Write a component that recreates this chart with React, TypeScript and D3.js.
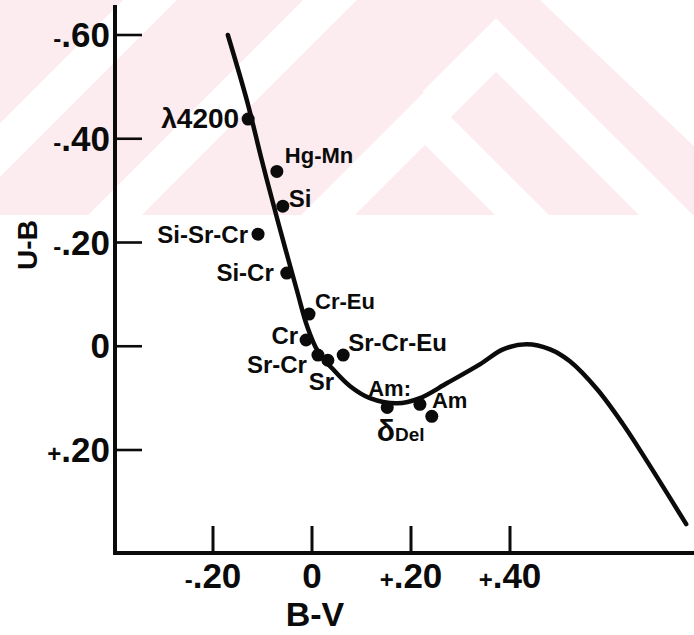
import React from 'react';
import * as d3 from 'd3';

// ---- Data ----
const STAR_NAMES = ['λ4200', 'Hg-Mn', 'Si', 'Si-Sr-Cr', 'Si-Cr', 'Cr-Eu', 'Cr', 'Sr-Cr', 'Sr', 'Sr-Cr-Eu', 'Am:', 'Am', 'δDel'];
const STAR_BV = [-0.129, -0.071, -0.059, -0.109, -0.051, -0.006, -0.012, 0.012, 0.032, 0.063, 0.152, 0.218, 0.242];
const STAR_UB = [-0.438, -0.337, -0.270, -0.216, -0.141, -0.062, -0.012, 0.017, 0.027, 0.017, 0.118, 0.112, 0.135];

// main-sequence curve
const SEQ_BV = [-0.170, -0.131, -0.101, -0.069, -0.030, -0.010, 0.012, 0.042, 0.077, 0.117, 0.172, 0.218, 0.273, 0.339, 0.386, 0.434, 0.481, 0.521, 0.576, 0.628, 0.677, 0.756];
const SEQ_UB = [-0.600, -0.472, -0.357, -0.241, -0.106, -0.039, 0.010, 0.044, 0.077, 0.100, 0.110, 0.100, 0.071, 0.035, 0.006, -0.004, 0.006, 0.029, 0.083, 0.150, 0.222, 0.343];

const BV_TICKS = [-0.2, 0, 0.2, 0.4];
const BV_TICK_LABELS = [['-', '.20'], ['', '0'], ['+', '.20'], ['+', '.40']];
const UB_TICKS = [-0.6, -0.4, -0.2, 0, 0.2];
const UB_TICK_LABELS = [['-', '.60'], ['-', '.40'], ['-', '.20'], ['', '0'], ['+', '.20']];

const X_TITLE = 'B-V';
const Y_TITLE = 'U-B';

// ---- Label placement (presentation) ----
const LABEL_PLACE: Record<string, { dx: number; dy: number; anchor: string; size: number }> = {
  'λ4200': { dx: -9, dy: 9, anchor: 'end', size: 28 },
  'Hg-Mn': { dx: 8, dy: -8, anchor: 'start', size: 22 },
  'Si': { dx: 6, dy: 1, anchor: 'start', size: 24 },
  'Si-Sr-Cr': { dx: -10, dy: 9, anchor: 'end', size: 24 },
  'Si-Cr': { dx: -13, dy: 8, anchor: 'end', size: 24 },
  'Cr-Eu': { dx: 6, dy: -5, anchor: 'start', size: 22 },
  'Cr': { dx: -8, dy: 4, anchor: 'end', size: 24 },
  'Sr-Cr': { dx: -11, dy: 18, anchor: 'end', size: 24 },
  'Sr': { dx: -19, dy: 30, anchor: 'start', size: 24 },
  'Sr-Cr-Eu': { dx: 5, dy: -4, anchor: 'start', size: 24 },
  'Am:': { dx: -19, dy: -11, anchor: 'start', size: 22 },
  'Am': { dx: 12, dy: 4, anchor: 'start', size: 22 },
  'δDel': { dx: -55, dy: 25, anchor: 'start', size: 30 },
};

const W = 694;
const H = 635;
const FONT = '"Liberation Sans", Arial, Helvetica, sans-serif';
const INK = '#0b0b0b';

export default function App() {
  const x = d3.scaleLinear().domain([-0.2, 0.4]).range([213, 510]);
  const y = d3.scaleLinear().domain([-0.6, 0.2]).range([35, 450]);

  const axisX = 115;
  const axisY = 553;
  const yTop = y(-0.658);

  const seq = SEQ_BV.map((b, i) => [b, SEQ_UB[i]] as [number, number]);
  const line = d3
    .line<[number, number]>()
    .x((d) => x(d[0]))
    .y((d) => y(d[1]))
    .curve(d3.curveCatmullRom.alpha(0.5));

  return (
    <svg
      width={W}
      height={H}
      viewBox={`0 0 ${W} ${H}`}
      style={{ position: 'absolute', left: 0, top: 0, background: '#fff' }}
      fontFamily={FONT}
      fontWeight="bold"
    >
      <defs>
        <clipPath id="wm">
          <rect x={0} y={0} width={W} height={215} />
        </clipPath>
      </defs>
      {/* watermark band */}
      <g clipPath="url(#wm)">
        <rect x={0} y={0} width={W} height={215} fill="#fdecef" />
        <g stroke="#ffffff" strokeWidth={38} fill="none" strokeLinecap="butt">
          <line x1={-20} y1={170} x2={170} y2={-20} />
          <line x1={-20} y1={350} x2={350} y2={-20} />
          <polyline points="125,418 425,118 725,418" />
          <polyline points="436,105 496,45 796,345" />
        </g>
        <polygon points="540,0 700,0 700,152" fill="#ffffff" />
      </g>

      {/* axes */}
      <line x1={axisX} y1={yTop} x2={axisX} y2={axisY + 2} stroke={INK} strokeWidth={4} />
      <line x1={axisX - 2} y1={axisY} x2={W} y2={axisY} stroke={INK} strokeWidth={4} />

      {UB_TICKS.map((t, i) => (
        <g key={'yt' + i}>
          <line x1={axisX} x2={axisX + 27} y1={y(t)} y2={y(t)} stroke={INK} strokeWidth={2.6} />
          <text x={110} y={y(t) + 12} textAnchor="end" fontSize={35} fill={INK}>
            <tspan fontSize={24}>{UB_TICK_LABELS[i][0]}</tspan>
            {UB_TICK_LABELS[i][1]}
          </text>
        </g>
      ))}
      {BV_TICKS.map((t, i) => (
        <g key={'xt' + i}>
          <line x1={x(t)} x2={x(t)} y1={axisY} y2={axisY - 27} stroke={INK} strokeWidth={3} />
          <text x={x(t)} y={axisY + 35} textAnchor="middle" fontSize={35} fill={INK}>
            <tspan fontSize={24}>{BV_TICK_LABELS[i][0]}</tspan>
            {BV_TICK_LABELS[i][1]}
          </text>
        </g>
      ))}

      <text x={315} y={626} textAnchor="middle" fontSize={34} fill={INK}>
        {X_TITLE}
      </text>
      <text
        transform="translate(37,245) rotate(-90)"
        textAnchor="middle"
        fontSize={28}
        fill={INK}
      >
        {Y_TITLE}
      </text>

      {/* curve */}
      <path d={line(seq) || ''} fill="none" stroke={INK} strokeWidth={4.5} strokeLinecap="round" />

      {/* stars */}
      {STAR_NAMES.map((name, i) => {
        const cx = x(STAR_BV[i]);
        const cy = y(STAR_UB[i]);
        const p = LABEL_PLACE[name];
        return (
          <g key={name}>
            <circle cx={cx} cy={cy} r={6.5} fill={INK} />
            {name === 'δDel' ? (
              <text x={cx + p.dx} y={cy + p.dy} textAnchor={p.anchor} fontSize={p.size} fill={INK}>
                δ<tspan fontSize={19}>Del</tspan>
              </text>
            ) : (
              <text x={cx + p.dx} y={cy + p.dy} textAnchor={p.anchor} fontSize={p.size} fill={INK}>
                {name}
              </text>
            )}
          </g>
        );
      })}
    </svg>
  );
}
